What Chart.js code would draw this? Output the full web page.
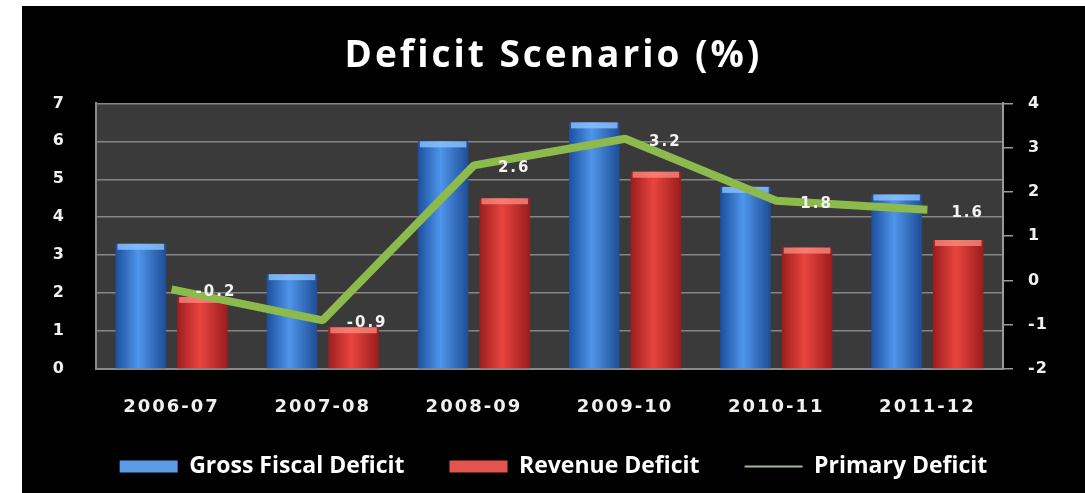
<!DOCTYPE html>
<html>
<head>
<meta charset="utf-8">
<script src="https://cdn.jsdelivr.net/npm/chart.js@4.4.1/dist/chart.umd.min.js"></script>
<style>
  html, body { margin: 0; padding: 0; background: #fff; }
  #wrap { position: absolute; left: 22px; top: 6px; width: 1063px; height: 487px; background: #000; }
</style>
</head>
<body>
<div id="wrap"><canvas id="deficitChart"></canvas></div>
<script>
// data
const years = ["2006-07", "2007-08", "2008-09", "2009-10", "2010-11", "2011-12"];
const grossFiscal = [3.3, 2.5, 6.0, 6.5, 4.8, 4.6];
const revenue = [1.9, 1.1, 4.5, 5.2, 3.2, 3.4];
const primary = [-0.2, -0.9, 2.6, 3.2, 1.8, 1.6];
const leftRange = [0, 7];
const rightRange = [-2, 4];

const blue = ["#1c4f9e", "#4f95ea", "#1f4d96"];
const red = ["#9c1d1d", "#e8453f", "#9a1c1c"];

function barFill(cols) {
  return function (c) {
    const el = c.element;
    if (c.type !== "data" || !el || el.x === undefined || !el.width) return cols[1];
    const g = c.chart.ctx.createLinearGradient(el.x - el.width / 2, 0, el.x + el.width / 2, 0);
    g.addColorStop(0, cols[0]);
    g.addColorStop(0.45, cols[1]);
    g.addColorStop(1, cols[2]);
    return g;
  };
}

// wrap a draw method so its text gets some letter spacing
function spaced(obj, method, px) {
  if (!obj || obj["_sp_" + method]) return;
  const orig = obj[method];
  obj[method] = function () {
    this.ctx.save();
    this.ctx.letterSpacing = px;
    orig.apply(this, arguments);
    this.ctx.restore();
  };
  obj["_sp_" + method] = true;
}

const plotBg = {
  id: "plotBg",
  beforeDraw(chart) {
    const { ctx, chartArea: a } = chart;
    ctx.save();
    ctx.fillStyle = "#3a3a3a";
    ctx.fillRect(a.left, a.top, a.width, a.height);
    ctx.restore();
    // x labels sit lower than the axis box, so don't clip them
    if (chart.scales.x) chart.scales.x._computeLabelArea = function () { return undefined; };
    spaced(chart.scales.x, "drawLabels", "2px");
    spaced(chart.scales.y, "drawLabels", "1px");
    spaced(chart.scales.y1, "drawLabels", "1px");
    spaced(chart.titleBlock, "draw", "3px");
  },
  afterDatasetDraw(chart, args) {
    // lighter caps on top of the bars
    if (args.index > 1) return;
    const ctx = chart.ctx;
    const cap = args.index === 0 ? "rgba(140,195,255,0.8)" : "rgba(255,140,130,0.75)";
    ctx.save();
    args.meta.data.forEach(function (el) {
      const w = el.width;
      ctx.fillStyle = cap;
      ctx.fillRect(el.x - w / 2 + 2, el.y, w - 4, 6);
    });
    ctx.restore();
  },
  afterDatasetsDraw(chart) {
    const meta = chart.getDatasetMeta(2);
    const ctx = chart.ctx;
    ctx.save();
    ctx.font = "bold 15px 'DejaVu Sans'";
    ctx.letterSpacing = "2px";
    ctx.fillStyle = "#f2f2f2";
    ctx.textBaseline = "middle";
    meta.data.forEach(function (p, i) {
      ctx.fillText(primary[i].toFixed(1), p.x + 24, p.y + 3);
    });
    ctx.restore();
  }
};

const tickFont = { family: "'DejaVu Sans'", size: 16, weight: "bold" };

const chart = new Chart(document.getElementById("deficitChart"), {
  type: "bar",
  data: {
    labels: years,
    datasets: [
      { label: "Gross Fiscal Deficit", data: grossFiscal, yAxisID: "y", order: 1,
        backgroundColor: barFill(blue), borderWidth: 0 },
      { label: "Revenue Deficit", data: revenue, yAxisID: "y", order: 1,
        backgroundColor: barFill(red), borderWidth: 0 },
      { label: "Primary Deficit", data: primary, type: "line", yAxisID: "y1", order: 0,
        borderColor: "#8dba4c", backgroundColor: "#8dba4c", borderWidth: 8,
        pointRadius: 0, borderJoinStyle: "bevel", tension: 0 }
    ]
  },
  options: {
    responsive: true,
    maintainAspectRatio: false,
    animation: false,
    categoryPercentage: 0.815,
    barPercentage: 0.82,
    layout: { padding: { bottom: 5 } },
    plugins: {
      tooltip: { enabled: false },
      title: {
        display: true,
        text: "Deficit Scenario (%)",
        color: "#ffffff",
        font: { family: "'Open Sans'", size: 37, weight: "bold" },
        padding: { top: 28, bottom: 25 }
      },
      legend: {
        position: "bottom",
        labels: {
          color: "#ffffff",
          font: { family: "'Open Sans'", size: 23, weight: "bold" },
          usePointStyle: true,
          pointStyleWidth: 58,
          boxHeight: 12,
          padding: 45,
          sort: (a, b) => a.datasetIndex - b.datasetIndex,
          generateLabels(chart) {
            const items = Chart.defaults.plugins.legend.labels.generateLabels(chart);
            items.forEach(function (it) {
              if (it.datasetIndex === 2) {
                it.pointStyle = "line";
                it.strokeStyle = "#a4b98f";
                it.lineWidth = 2;
              } else {
                it.pointStyle = "rect";
                it.lineWidth = 0;
                it.fillStyle = it.datasetIndex === 0 ? "#5a9be6" : "#e2554f";
              }
            });
            return items;
          }
        }
      }
    },
    scales: {
      x: {
        grid: { display: false, drawTicks: false },
        border: { color: "#8a8a8a", width: 2 },
        ticks: { color: "#f0f0f0", font: { family: "'DejaVu Sans'", size: 18, weight: "bold" }, padding: 28 },
        afterFit(s) { s.height = 41; }
      },
      y: {
        position: "left",
        min: leftRange[0],
        max: leftRange[1],
        ticks: { stepSize: 1, color: "#f0f0f0", font: tickFont, padding: 31 },
        grid: { color: "#868686", lineWidth: 1.5, drawTicks: false },
        border: { color: "#8a8a8a", width: 2 },
        afterFit(s) { s.width = 74; }
      },
      y1: {
        position: "right",
        min: rightRange[0],
        max: rightRange[1],
        ticks: { stepSize: 1, color: "#f0f0f0", font: tickFont, padding: 15 },
        grid: { drawOnChartArea: false, drawTicks: true, tickLength: 10, color: "#9a9a9a", lineWidth: 1.5 },
        border: { color: "#9a9a9a", width: 2 },
        afterFit(s) { s.width = 82; }
      }
    }
  },
  plugins: [plotBg]
});
// second pass so the bar gradients know where each bar sits
chart.update("none");
</script>
</body>
</html>
